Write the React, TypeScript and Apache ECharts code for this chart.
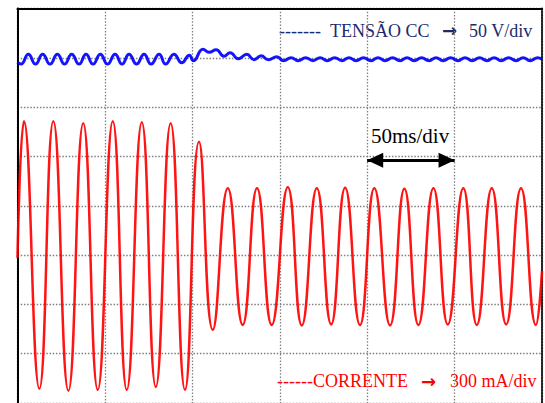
import React, { useEffect, useRef } from "react";
import * as echarts from "echarts";

// Time axis (ms): 50 ms/div, 6 divisions visible
const timeTicksMs = [0, 50, 100, 150, 200, 250, 300];

// Current (mA), 300 mA/div — peaks & troughs
const currentTimesMs = [
  0, 3.7, 12.5, 20.5, 29.1, 37.6, 45.9, 54.5, 62.5, 71.1, 79.1, 87.6, 95.8,
  103.8, 111.7, 120.3, 128.8, 137.0, 145.4, 154.6, 162.6, 171.2, 179.4, 187.4,
  195.9, 204.1, 213.1, 221.3, 229.3, 237.9, 246.1, 255.0, 262.7, 271.3, 279.5,
  288.0, 296.5, 300,
];
const currentValuesMa = [
  -18, 814, -814, 814, -826, 802, -820, 814, -820, 808, -802, 802, -820,
  689, -455, 407, -425, 407, -425, 413, -428, 407, -422, 410, -425,
  407, -428, 404, -425, 407, -422, 407, -425, 407, -422,
  407, -425, -96,
];

// DC bus voltage (V), 50 V/div — ripple maxima & minima
const voltageTimesMs = [
  0, 2.0, 6.2, 10.3, 14.4, 18.6, 22.8, 26.9, 31.0, 35.2, 39.2, 43.2, 47.4,
  51.5, 55.8, 59.8, 63.8, 68.1, 72.4, 76.4, 81.0, 84.7, 89.5, 93.9, 98.3,
  100.6, 106.1, 109.6, 113.6, 118.1, 121.6, 126.3, 131.1, 135.3, 139.3, 143.5,
  148.3, 152.2, 156.5, 160.5, 164.8, 169.0, 173.1, 177.1, 181.4, 185.6, 189.6,
  193.6, 197.9, 202.2, 206.2, 210.2, 214.5, 218.8, 222.8, 226.8, 231.1, 235.4,
  239.4, 243.4, 247.7, 252.0, 256.0, 260.0, 264.3, 268.6, 272.6, 276.6, 280.9,
  285.2, 289.2, 293.2, 297.5, 300,
];
const voltageValuesV = [
  345.6, 343.6, 353.6, 343.6, 353.6, 343.6, 353.6, 343.6, 353.6, 343.6, 353.6,
  343.6, 353.6, 343.6, 353.6, 343.6, 353.6, 343.6, 353.6, 343.6, 353.6, 343.6,
  353.6, 345.0, 352.6, 346.9, 358.6, 355.6, 358.1, 351.6, 355.1, 349.1, 353.6,
  348.1, 352.1, 348.1, 351.1, 347.1, 350.1, 347.1, 350.1, 347.1, 350.1, 347.1,
  350.1, 347.1, 350.1, 347.1, 350.1, 347.1, 350.1, 347.1, 350.1, 347.1, 350.1,
  347.1, 350.1, 347.1, 350.1, 347.1, 350.1, 347.1, 350.1, 347.1, 350.1, 347.1,
  350.1, 347.1, 350.1, 347.1, 350.1, 347.1, 350.1, 348.6,
];

// Time-scale marker: one division, drawn at this current level
const scaleBarMs = [200, 250];
const scaleBarLevelMa = 577;

const SERIF = '"Liberation Serif", "Times New Roman", serif';
const ARROWFONT = '"DejaVu Sans", sans-serif';
const NAVY = "#1c2a6c";
const RED = "#ff0000";

export default function App() {
  const ref = useRef<HTMLDivElement>(null);

  useEffect(() => {
    document.body.style.margin = "0";
    if (!ref.current) return;
    const chart = echarts.init(ref.current, undefined, { renderer: "svg" });

    const gridLine = {
      show: true,
      lineStyle: { color: "#808080", width: 1.3, type: [1.5, 1.7] as any },
    };

    const option: any = {
      animation: false,
      backgroundColor: "#ffffff",
      grid: { left: 17.5, right: 3, top: 8.5, bottom: -6.3, containLabel: false },
      xAxis: {
        type: "value",
        min: timeTicksMs[0],
        max: timeTicksMs[timeTicksMs.length - 1],
        interval: timeTicksMs[1] - timeTicksMs[0],
        position: "top",
        axisLine: { show: true, onZero: false, lineStyle: { color: "#000", width: 2 } },
        axisTick: { show: false },
        axisLabel: { show: false },
        splitLine: gridLine,
      },
      yAxis: [
        {
          type: "value",
          min: -900,
          max: 1500,
          interval: 300,
          position: "left",
          axisLine: { show: true, onZero: false, lineStyle: { color: "#000", width: 2 } },
          axisTick: { show: false },
          axisLabel: { show: false },
          splitLine: gridLine,
        },
        {
          type: "value",
          min: 0,
          max: 400,
          interval: 50,
          position: "right",
          axisLine: {
            show: true,
            onZero: false,
            lineStyle: { color: "#222", width: 2, type: [2, 1] },
          },
          axisTick: { show: false },
          axisLabel: { show: false },
          splitLine: { show: false },
        },
      ],
      series: [
        {
          name: "CORRENTE",
          type: "line",
          yAxisIndex: 0,
          data: currentTimesMs.map((t, i) => [t, currentValuesMa[i]]),
          showSymbol: false,
          smooth: 0.5,
          lineStyle: { color: RED, width: 2.5, opacity: 0.92 },
          z: 2,
          markLine: {
            silent: true,
            symbol: ["triangle", "triangle"],
            symbolSize: [15, 16],
            symbolOffset: [[0, 8], [0, 8]],
            lineStyle: { color: "#000", width: 3, type: "solid" },
            label: { show: false },
            emphasis: { disabled: true },
            data: [
              [
                { coord: [scaleBarMs[0], scaleBarLevelMa] },
                { coord: [scaleBarMs[1], scaleBarLevelMa] },
              ],
            ],
          },
        },
        {
          name: "TENSÃO CC",
          type: "line",
          yAxisIndex: 1,
          data: voltageTimesMs.map((t, i) => [t, voltageValuesV[i]]),
          showSymbol: false,
          smooth: 0.5,
          lineStyle: { color: "#0000ff", width: 3, opacity: 0.92 },
          z: 3,
        },
      ],
      graphic: [
        { type: "text", x: 279, y: 30.6, style: { text: "-------", fill: NAVY, fontSize: 18, fontFamily: SERIF, verticalAlign: "middle" } },
        { type: "text", x: 330, y: 30.6, style: { text: "TENSÃO CC", fill: NAVY, fontSize: 18, fontFamily: SERIF, verticalAlign: "middle" } },
        { type: "text", x: 442, y: 30.6, style: { text: "→", fill: NAVY, fontSize: 18, fontWeight: "bold", fontFamily: ARROWFONT, verticalAlign: "middle" } },
        { type: "text", x: 469, y: 30.6, style: { text: "50 V/div", fill: NAVY, fontSize: 18, fontFamily: SERIF, verticalAlign: "middle" } },
        { type: "text", x: 371, y: 135.6, style: { text: "50ms/div", fill: "#000", fontSize: 21, fontFamily: SERIF, verticalAlign: "middle" } },
        { type: "text", x: 277, y: 381, style: { text: "------CORRENTE", fill: RED, fontSize: 18, fontFamily: SERIF, verticalAlign: "middle" } },
        { type: "text", x: 421, y: 381, style: { text: "→", fill: RED, fontSize: 18, fontWeight: "bold", fontFamily: ARROWFONT, verticalAlign: "middle" } },
        { type: "text", x: 450, y: 381, style: { text: "300 mA/div", fill: RED, fontSize: 18, fontFamily: SERIF, verticalAlign: "middle" } },
      ],
    };

    chart.setOption(option);
    return () => chart.dispose();
  }, []);

  return (
    <div
      ref={ref}
      style={{ width: 545, height: 403, position: "fixed", left: 0, top: 0, background: "#fff" }}
    />
  );
}
